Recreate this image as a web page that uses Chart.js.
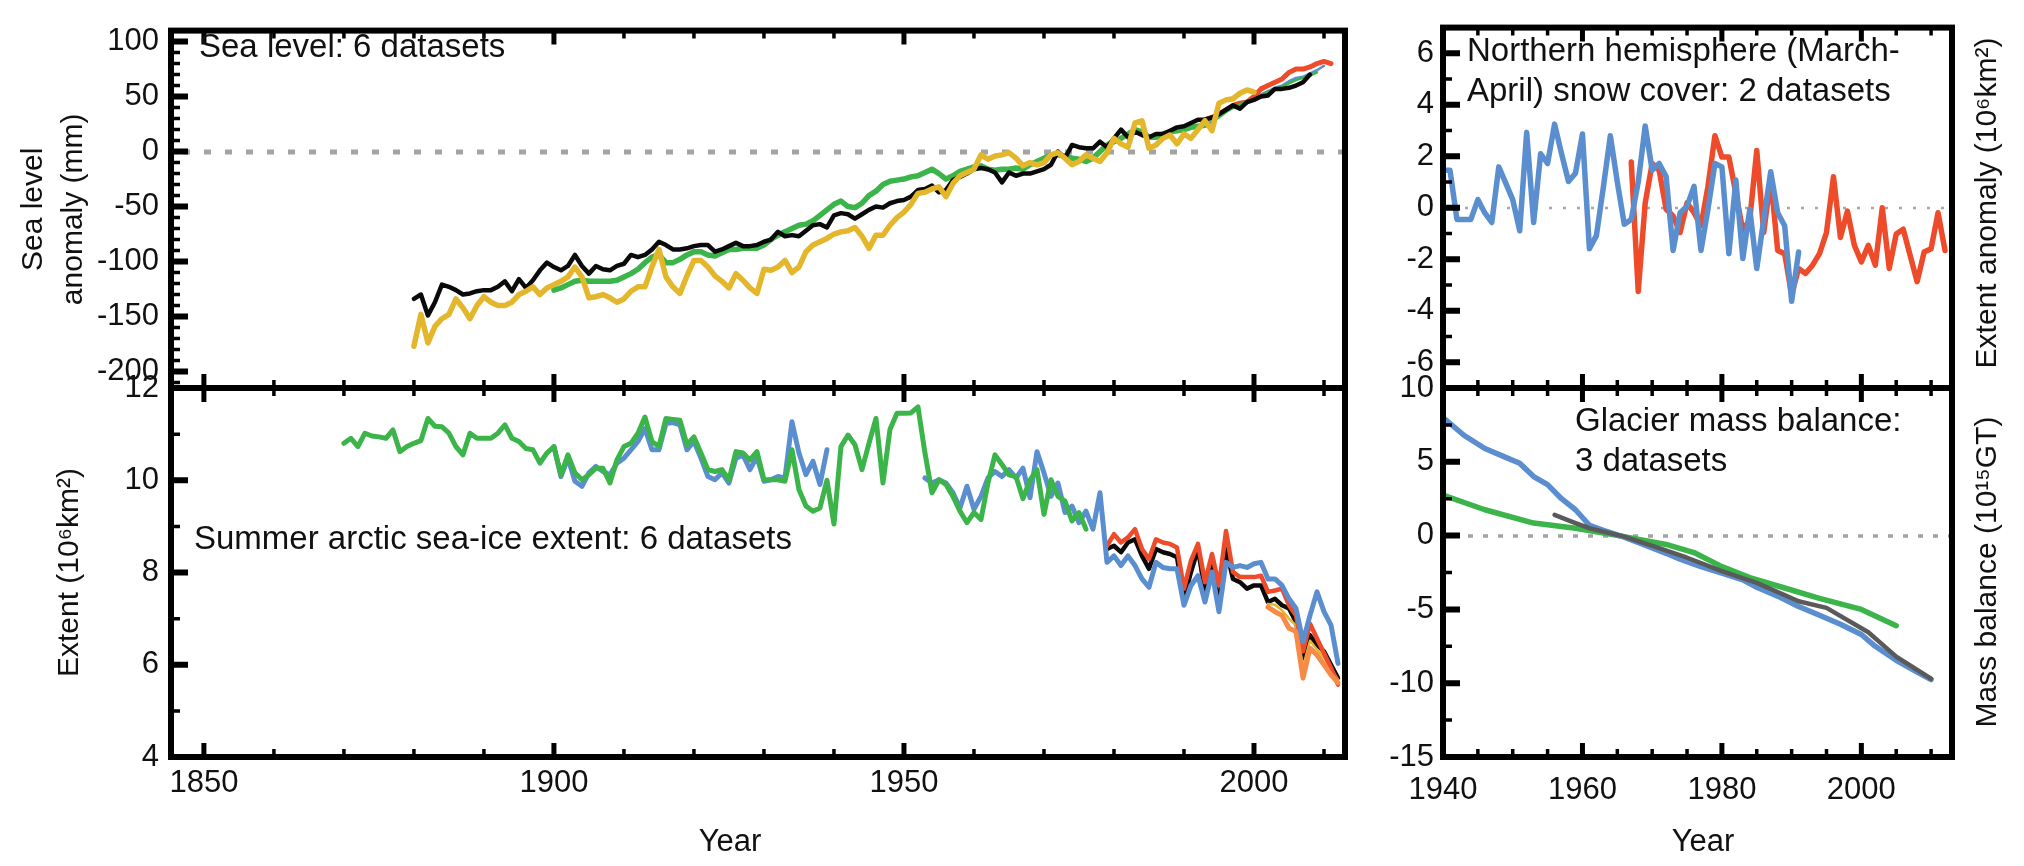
<!DOCTYPE html>
<html>
<head>
<meta charset="utf-8">
<script src="https://cdn.jsdelivr.net/npm/chart.js@4.4.1/dist/chart.umd.min.js"></script>
<style>
  body { margin: 0; background: #fff; }
  #wrap { position: relative; width: 2024px; height: 866px; }
  #wrap canvas { position: absolute; left: 0; top: 0; }
</style>
</head>
<body>
<div id="wrap">
  <canvas id="seaLevel" width="2024" height="866"></canvas>
  <canvas id="seaIce" width="2024" height="866"></canvas>
  <canvas id="snow" width="2024" height="866"></canvas>
  <canvas id="glacier" width="2024" height="866"></canvas>
</div>
<script>
// ---- sea level anomaly (mm), one value per year ----
const seaBlackStart = 1880;
const seaBlack = [
  -134, -130, -149, -137, -121, -123, -126, -130, -129, -127,
  -126, -126, -123, -118, -127, -116, -124, -117, -108, -101,
  -105, -108, -104, -94, -104, -111, -104, -107, -108, -104,
  -102, -94, -96, -94, -89, -82, -85, -89, -89, -88,
  -86, -85, -85, -91, -89, -86, -83, -86, -86, -85,
  -82, -80, -73, -77, -76, -77, -72, -67, -66, -69,
  -58, -56, -57, -61, -57, -53, -50, -51, -47, -45,
  -44, -41, -35, -34, -31, -37, -35, -26, -23, -20,
  -16, -15, -16, -19, -28, -19, -22, -20, -20, -18,
  -16, -12, 0, -6, 6, 4, 3, 3, 9, 4,
  12, 20, 13, 18, 15, 13, 16, 16, 19, 22,
  23, 26, 29, 29, 31, 34, 38, 42, 39, 45,
  47, 50, 51, 57, 57, 58, 60, 63, 70
];
const seaYellowStart = 1880;
const seaYellow = [
  -177, -148, -174, -159, -152, -148, -134, -142, -152, -140,
  -132, -137, -140, -140, -137, -130, -127, -123, -130, -124,
  -121, -118, -114, -105, -114, -133, -132, -130, -133, -137,
  -134, -127, -123, -123, -105, -89, -114, -123, -129, -113,
  -99, -99, -105, -113, -118, -124, -111, -117, -124, -129,
  -107, -108, -105, -99, -110, -105, -91, -85, -82, -79,
  -75, -73, -72, -69, -77, -88, -76, -76, -67, -60,
  -55, -48, -38, -37, -34, -32, -41, -29, -22, -19,
  -16, -3, -7, -4, -3, -1, -6, -13, -10, -12,
  -10, -3, -1, -6, -12, -9, -3, -6, -9, -1,
  12, 7, 4, 26, 28, 3, 6, 12, 15, 7,
  16, 12, 20, 28, 19, 44, 47, 48, 53, 56,
  54
];
const seaGreenStart = 1900;
const seaGreen = [
  -126, -124, -121, -118, -117, -118, -118, -118, -118, -117,
  -114, -111, -107, -101, -96, -94, -101, -101, -98, -94,
  -91, -91, -94, -95, -92, -89, -89, -88, -88, -88,
  -85, -80, -76, -73, -70, -67, -66, -63, -58, -53,
  -48, -45, -50, -51, -47, -40, -36, -30, -27, -26,
  -25, -23, -22, -19, -16, -20, -25, -22, -18, -16,
  -14, -13, -16, -17, -16, -16, -15, -16, -12, -9,
  -6, -3, -3, -4, -6, -7, -9, -6, 0, 6,
  9, 12, 16, 20, 18, 13, 13, 16, 18, 19,
  20, 22, 23, 24
];
const seaGreen2Start = 1993;
const seaGreen2 = [24, 27, 31, 36, 40, 43, 46, 48, 51, 54, 57, 59, 62, 65, 67, 69, 72];
const seaBlueStart = 1993;
const seaBlue = [27, 29, 32, 36, 40, 42, 44, 47, 52, 55, 58, 60, 64, 67, 68, 71, 74, 78];
const seaRedStart = 1993;
const seaRed = [29, 31, 34, 38, 42, 44, 45, 50, 57, 60, 63, 66, 72, 75, 75, 77, 80, 82, 80];

// ---- summer arctic sea-ice extent (10^6 km^2) ----
const iceGreenStart = 1870;
const iceGreen = [
  10.80, 10.91, 10.73, 11.02, 10.96, 10.94, 10.91, 11.09, 10.62, 10.73,
  10.80, 10.86, 11.34, 11.17, 11.16, 11.02, 10.73, 10.55, 11.02, 10.91,
  10.91, 10.91, 11.02, 11.20, 10.91, 10.84, 10.69, 10.66, 10.37, 10.59,
  10.73, 10.12, 10.55, 10.16, 10.01, 10.12, 10.26, 10.26, 9.94, 10.44,
  10.73, 10.80, 11.02, 11.37, 10.84, 10.73, 11.34, 11.32, 11.30, 10.77,
  10.94, 10.59, 10.23, 10.19, 10.23, 10.01, 10.62, 10.59, 10.44, 10.62,
  10.01, 10.01, 10.01, 9.98, 10.66, 9.80, 9.44, 9.33, 9.40, 10.00,
  9.05, 10.73, 10.98, 10.77, 10.23, 10.80, 11.34, 9.94, 11.10, 11.45,
  11.45, 11.46, 11.59, 10.59, 9.73, 10.01, 9.91, 9.65, 9.33, 9.08,
  9.30, 9.15, 9.94, 10.55, 10.34, 10.12, 10.08, 9.60, 10.00, 10.23,
  9.26, 10.01, 9.65, 9.55, 9.12, 9.30, 8.94
];
const iceBlueStart = 1900;
const iceBlue = [
  10.73, 10.08, 10.48, 9.98, 9.87, 10.16, 10.30, 10.19, 10.12, 10.37,
  10.48, 10.66, 10.84, 11.12, 10.66, 10.66, 11.23, 11.25, 11.20, 10.66,
  10.84, 10.48, 10.08, 10.01, 10.16, 9.94, 10.48, 10.55, 10.23, 10.51,
  9.98, 10.01, 10.08, 10.05, 11.27, 10.59, 10.12, 10.41, 9.91, 10.66,
  null, null, null, null, null, null, null, null, null, null, null, null, null,
  10.05, 9.94, 10.01, 9.94, 9.73, 9.40, 9.87,
  9.37, 9.65, 10.05, 10.19, 10.08, 10.23, 10.05, 10.26, 9.62, 10.62,
  10.16, 9.65, 9.94, 9.30, 9.44, 9.08, 9.33, 8.94, 9.73, 8.22,
  8.36, 8.15, 8.36, 8.15, 7.86, 7.68, 8.22, 8.11, 8.08, 8.08,
  7.29, 7.72, 7.93, 7.36, 8.01, 7.15, 8.22, 8.11, 8.15, 8.11,
  8.19, 8.22, 7.86, 7.86, 7.72, 7.43, 7.22, 6.50, 7.07, 7.58,
  7.15, 6.86, 6.03
];
const iceRedStart = 1979;
const iceRed = [
  8.58, 8.83, 8.65, 8.76, 8.94, 8.51, 8.29, 8.72, 8.65, 8.62, 8.54,
  7.65, 8.26, 8.62, 7.79, 8.40, 7.72, 8.90, 8.01, 7.90, 7.90,
  7.90, 7.93, 7.58, 7.61, 7.65, 7.29, 7.07, 6.29, 6.89, 6.57,
  6.25, 5.93, 5.57
];
const iceBlackStart = 1979;
const iceBlack = [
  8.51, 8.58, 8.44, 8.65, 8.72, 8.36, 8.08, 8.51, 8.44, 8.40, 8.33,
  7.43, 8.01, 8.51, 7.58, 8.15, 7.32, 8.51, 7.86, 7.79, 7.65,
  7.72, 7.72, 7.36, 7.43, 7.29, 7.22, 6.93, 6.14, 6.64, 6.43,
  6.29, 6.00, 5.71
];
const iceOrangeStart = 2002;
const iceOrange = [7.25, 7.15, 7.07, 6.79, 6.72, 5.71, 6.36, 6.21, 6.00, 5.78, 5.61];
const iceYellowStart = 2002;
const iceYellow = [7.32, 7.30, 7.18, 7.00, 6.85, 5.95, 6.52, 6.33, 6.15, 5.92, 5.68];

// ---- NH March-April snow cover anomaly (10^6 km^2) ----
const snowBlueStart = 1940;
const snowBlue = [
  1.46, 1.46, -0.45, -0.45, -0.45, 0.32, -0.20, -0.57, 1.59, 0.96,
  0.32, -0.89, 2.93, -0.57, 2.10, 1.72, 3.25, 2.10, 1.02, 1.34,
  2.87, -1.59, -1.08, 0.80, 2.80, 1.00, -0.64, -0.45, 1.00, 3.18,
  1.46, 1.72, 1.21, -1.66, -0.19, 0.06, 0.83, -1.66, -0.06, 1.72,
  1.59, -1.78, 1.08, -1.97, -0.06, -2.36, -0.45, 1.40, -0.19, -0.70,
  -3.63, -1.72
];
const snowRedStart = 1967;
const snowRed = [
  1.78, -3.25, 0.19, 1.72, 1.46, -0.06, -0.32, -0.96, 0.19, -0.19,
  -0.70, 0.83, 2.80, 1.97, 1.97, 0.57, -0.89, -0.45, 2.23, -0.96,
  1.15, -1.66, -1.78, -3.38, -2.36, -2.55, -2.23, -1.78, -0.96, 1.21,
  -1.15, -0.13, -1.46, -2.10, -1.46, -2.23, 0.00, -2.36, -1.02, -0.83,
  -1.85, -2.87, -1.72, -1.59, -0.19, -1.66
];

// ---- glacier mass balance (10^15 GT), cumulative ----
const glacierBlueYears = [1940, 1943, 1946, 1949, 1951, 1953, 1955, 1957, 1959, 1961, 1963, 1966, 1969, 1972,
  1974, 1977, 1980, 1983, 1985, 1988, 1991, 1994, 1997, 2000, 2002, 2005, 2008, 2010];
const glacierBlue = [8.0, 6.8, 5.9, 5.3, 4.9, 4.0, 3.45, 2.5, 1.75, 0.7, 0.35, -0.1, -0.65, -1.2,
  -1.6, -2.1, -2.55, -3.0, -3.5, -4.1, -4.8, -5.4, -6.0, -6.7, -7.5, -8.45, -9.25, -9.75];
const glacierGreenYears = [1940, 1946, 1953, 1959, 1966, 1972, 1976, 1980, 1984, 1989, 1994, 2000, 2005];
const glacierGreen = [2.75, 1.75, 0.85, 0.5, -0.07, -0.6, -1.15, -2.1, -2.85, -3.55, -4.25, -5.0, -6.1];
const glacierGrayYears = [1956, 1959, 1961, 1966, 1971, 1975, 1980, 1985, 1991, 1995, 2001, 2005, 2010];
const glacierGray = [1.4, 0.85, 0.5, -0.07, -0.85, -1.5, -2.4, -3.2, -4.45, -4.9, -6.55, -8.2, -9.7];

// tick labels
const longYearTicks = [1850, 1900, 1950, 2000];
const shortYearTicks = [1940, 1960, 1980, 2000];
const seaTicks = [100, 50, 0, -50, -100, -150, -200];
const iceTicks = [12, 10, 8, 6, 4];
const snowTicks = [6, 4, 2, 0, -2, -4, -6];
const glacierTicks = [10, 5, 0, -5, -10, -15];

const FONT = "'Liberation Sans', Arial, Helvetica, sans-serif";
Chart.defaults.font.family = FONT;
Chart.defaults.color = '#111';

const GREEN = '#3bb44a', YELLOW = '#e4b62c', BLACK = '#0a0a0a', RED = '#ee4b2b',
      BLUE = '#5b8ecf', ORANGE = '#f88a48', GRAY = '#5a5a5a';

const byYear = (start, vals) => vals.map((y, i) => ({ x: start + i, y }));
const byPairs = (years, vals) => years.map((x, i) => ({ x, y: vals[i] }));

function line(label, data, color, width) {
  return {
    label, data, borderColor: color, borderWidth: width,
    pointRadius: 0, tension: 0, spanGaps: false,
    borderJoinStyle: 'round', borderCapStyle: 'round'
  };
}

// frame, inward tick marks, dotted zero line and free text for each panel
const panelFrame = {
  id: 'panelFrame',
  beforeDatasetsDraw(chart, args, o) {
    if (!o.zero) return;
    const { ctx, chartArea: a, scales: { y } } = chart;
    const py = Math.round(y.getPixelForValue(0));
    ctx.save();
    ctx.strokeStyle = o.zero.color;
    ctx.lineWidth = o.zero.width;
    ctx.setLineDash(o.zero.dash);
    ctx.beginPath();
    ctx.moveTo(a.left + o.zero.inset, py);
    ctx.lineTo(a.right, py);
    ctx.stroke();
    ctx.restore();
  },
  afterDatasetsDraw(chart, args, o) {
    const { ctx, chartArea: a, scales: { x, y } } = chart;
    ctx.save();
    ctx.strokeStyle = '#000';
    const marks = (scale, step, len, w, vertical) => {
      ctx.lineWidth = w;
      ctx.beginPath();
      for (let v = Math.ceil(scale.min / step) * step; v <= scale.max + 1e-6; v += step) {
        const p = scale.getPixelForValue(v);
        if (vertical) {
          ctx.moveTo(a.left, p); ctx.lineTo(a.left + len, p);
        } else {
          ctx.moveTo(p, a.top); ctx.lineTo(p, a.top + len);
          ctx.moveTo(p, a.bottom); ctx.lineTo(p, a.bottom - len);
        }
      }
      ctx.stroke();
    };
    marks(x, o.xMinor, 8, 3.5, false);
    marks(x, o.xMajor, 14, 5, false);
    marks(y, o.yMinor, 9, 3.5, true);
    marks(y, o.yMajor, 17, 6, true);
    ctx.lineWidth = 6;
    ctx.strokeRect(a.left, a.top, a.right - a.left, a.bottom - a.top);

    ctx.fillStyle = '#111';
    ctx.textBaseline = 'middle';
    for (const n of o.notes || []) {
      ctx.font = `${n.size || 33}px ${FONT}`;
      ctx.textAlign = n.align || 'left';
      if (n.rotate) {
        ctx.save();
        ctx.translate(n.x, n.y);
        ctx.rotate(-Math.PI / 2);
        ctx.fillText(n.text, 0, 0);
        ctx.restore();
      } else {
        ctx.fillText(n.text, n.x, n.y);
      }
    }
    ctx.restore();
  }
};
Chart.register(panelFrame);

const fixedTicks = list => scale => { scale.ticks = list.map(value => ({ value })); };

function panel(id, c) {
  const xHeight = c.xTicks ? 100 : 0;
  return new Chart(document.getElementById(id), {
    type: 'line',
    data: { datasets: c.datasets },
    options: {
      responsive: false,
      animation: false,
      devicePixelRatio: 1,
      layout: {
        autoPadding: false,
        padding: { left: c.box.l - c.yWidth, right: 2024 - c.box.r, top: c.box.t, bottom: 866 - c.box.b - xHeight }
      },
      plugins: { legend: { display: false }, tooltip: { enabled: false }, panelFrame: c.frame },
      scales: {
        x: {
          type: 'linear', min: c.xRange[0], max: c.xRange[1],
          display: !!c.xTicks,
          grid: { display: false, drawTicks: false },
          border: { display: false },
          afterBuildTicks: c.xTicks ? fixedTicks(c.xTicks) : undefined,
          afterFit: s => { s.height = xHeight; },
          ticks: { font: { size: 31 }, padding: c.xPad || 8, maxRotation: 0, autoSkip: false, callback: v => String(v) }
        },
        y: {
          type: 'linear', min: c.yRange[0], max: c.yRange[1],
          grid: { display: false, drawTicks: false },
          border: { display: false },
          afterBuildTicks: fixedTicks(c.yTicks),
          afterFit: s => { s.width = c.yWidth; },
          ticks: { font: { size: 31 }, padding: c.yPad, callback: v => String(v) },
          title: c.yTitle
            ? { display: true, text: c.yTitle, font: { size: 30, lineHeight: 1.35 }, padding: { top: c.yTitlePad, bottom: 0 } }
            : { display: false }
        }
      }
    }
  });
}

panel('seaLevel', {
  box: { l: 171, r: 1345, t: 18, b: 388 },
  xRange: [1845.3, 2013], yRange: [-215, 110],
  yTicks: seaTicks, yWidth: 171, yPad: 12,
  yTitle: ['Sea level', 'anomaly (mm)'], yTitlePad: 13,
  frame: {
    xMajor: 50, xMinor: 10, yMajor: 50, yMinor: 10,
    zero: { width: 5, dash: [7, 14], inset: 12, color: '#a3a3a3' },
    notes: [{ text: 'Sea level: 6 datasets', x: 199, y: 48 }]
  },
  datasets: [
    line('Sea level (yellow)', byYear(seaYellowStart, seaYellow), YELLOW, 5.5),
    line('Sea level (black)', byYear(seaBlackStart, seaBlack), BLACK, 4.5),
    line('Sea level (green)', byYear(seaGreenStart, seaGreen), GREEN, 5.5),
    line('Sea level (green, altimetry)', byYear(seaGreen2Start, seaGreen2), GREEN, 2.5),
    line('Sea level (blue)', byYear(seaBlueStart, seaBlue), BLUE, 2.5),
    line('Sea level (red)', byYear(seaRedStart, seaRed), RED, 5)
  ]
});

panel('seaIce', {
  box: { l: 171, r: 1345, t: 388, b: 757 },
  xRange: [1845.3, 2013], yRange: [4, 12],
  xTicks: longYearTicks, xPad: 8,
  yTicks: iceTicks, yWidth: 171, yPad: 12,
  yTitle: 'Extent (10⁶km²)', yTitlePad: 49,
  frame: {
    xMajor: 50, xMinor: 10, yMajor: 2, yMinor: 1,
    notes: [
      { text: 'Summer arctic sea-ice extent: 6 datasets', x: 194, y: 540 },
      { text: 'Year', x: 730, y: 842, align: 'center', size: 31 }
    ]
  },
  datasets: [
    line('Sea ice (green)', byYear(iceGreenStart, iceGreen), GREEN, 5),
    line('Sea ice (blue)', byYear(iceBlueStart, iceBlue), BLUE, 5),
    line('Sea ice (orange)', byYear(iceOrangeStart, iceOrange), ORANGE, 5),
    line('Sea ice (red)', byYear(iceRedStart, iceRed), RED, 4.5),
    line('Sea ice (yellow)', byYear(iceYellowStart, iceYellow), YELLOW, 2.5),
    line('Sea ice (black)', byYear(iceBlackStart, iceBlack), BLACK, 4.5)
  ]
});

panel('snow', {
  box: { l: 1443, r: 1952, t: 18, b: 388 },
  xRange: [1940, 2013], yRange: [-7, 7],
  yTicks: snowTicks, yWidth: 100, yPad: 9,
  frame: {
    xMajor: 20, xMinor: 5, yMajor: 2, yMinor: 1,
    zero: { width: 2.5, dash: [3, 11], inset: 8, color: '#a8a8a8' },
    notes: [
      { text: 'Northern hemisphere (March-', x: 1467, y: 52 },
      { text: 'April) snow cover: 2 datasets', x: 1467, y: 92 },
      { text: 'Extent anomaly (10⁶km²)', x: 1988, y: 203, rotate: true, align: 'center', size: 30 }
    ]
  },
  datasets: [
    line('Snow cover (blue)', byYear(snowBlueStart, snowBlue), BLUE, 5.5),
    line('Snow cover (red)', byYear(snowRedStart, snowRed), RED, 5.5)
  ]
});

panel('glacier', {
  box: { l: 1443, r: 1952, t: 388, b: 757 },
  xRange: [1940, 2013], yRange: [-15, 10],
  xTicks: shortYearTicks, xPad: 15,
  yTicks: glacierTicks, yWidth: 100, yPad: 9,
  frame: {
    xMajor: 20, xMinor: 5, yMajor: 5, yMinor: 2.5,
    zero: { width: 3.5, dash: [5, 10], inset: 10, color: '#a3a3a3' },
    notes: [
      { text: 'Glacier mass balance:', x: 1575, y: 422 },
      { text: '3 datasets', x: 1575, y: 462 },
      { text: 'Year', x: 1703, y: 842, align: 'center', size: 31 },
      { text: 'Mass balance (10¹⁵GT)', x: 1988, y: 572, rotate: true, align: 'center', size: 30 }
    ]
  },
  datasets: [
    line('Glacier (gray)', byPairs(glacierGrayYears, glacierGray), GRAY, 4.5),
    line('Glacier (blue)', byPairs(glacierBlueYears, glacierBlue), BLUE, 5.5),
    line('Glacier (green)', byPairs(glacierGreenYears, glacierGreen), GREEN, 5.5)
  ]
});
</script>
</body>
</html>
